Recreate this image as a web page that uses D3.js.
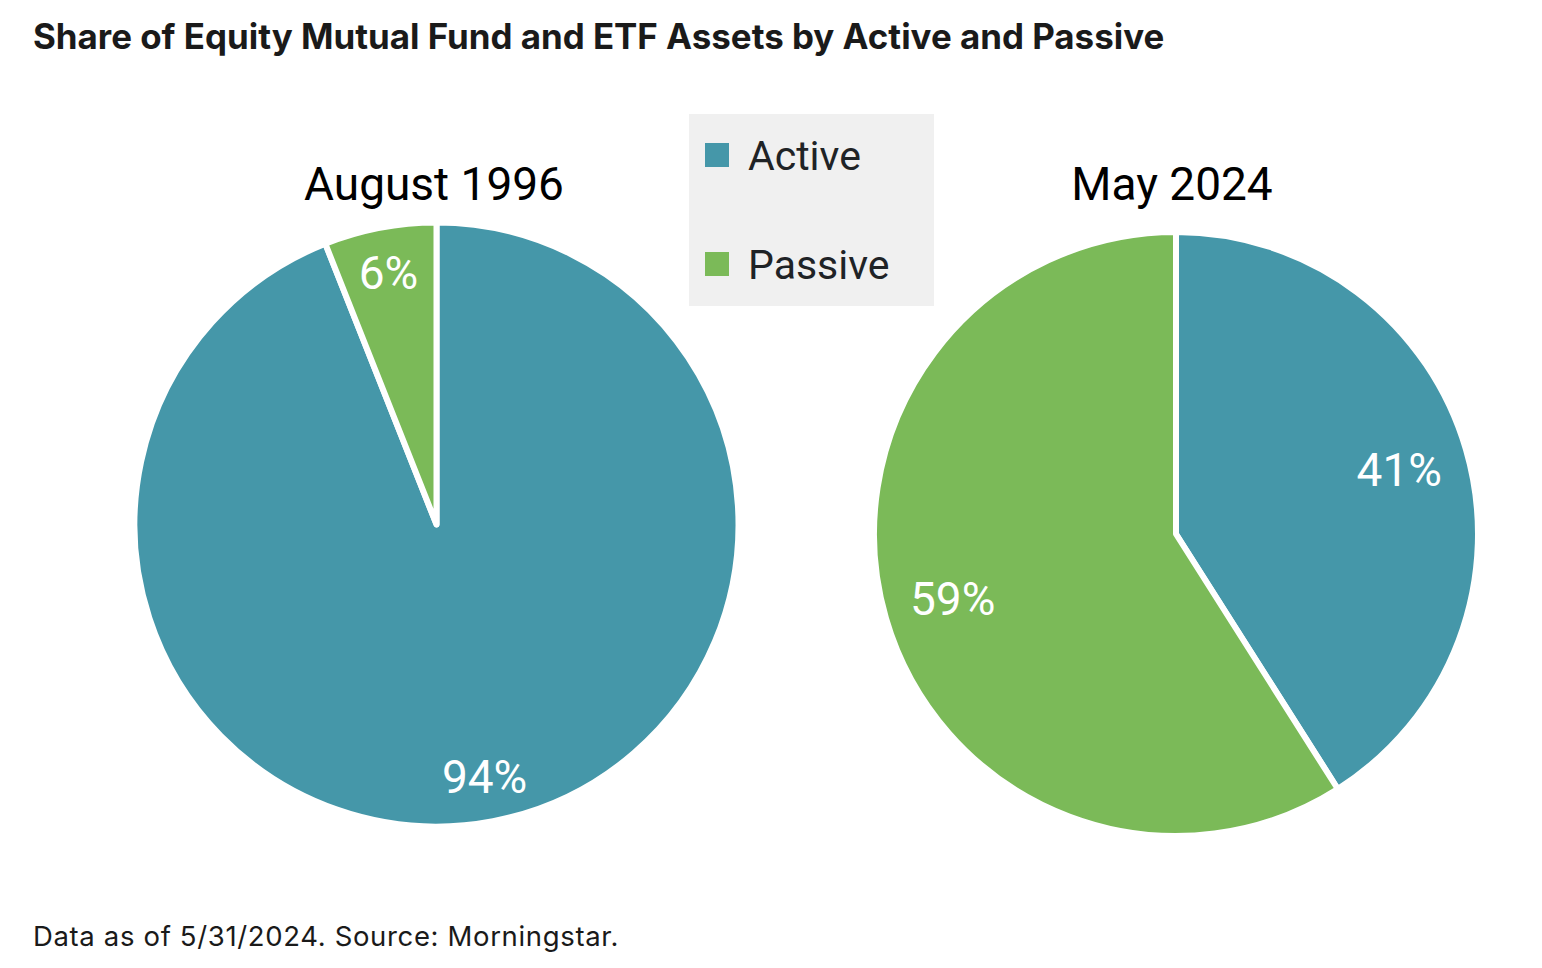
<!DOCTYPE html>
<html><head><meta charset="utf-8">
<script src="https://cdn.jsdelivr.net/npm/d3@7"></script>
<style>
html,body{margin:0;padding:0;background:#fff;}
svg{display:block;}
</style></head>
<body>
<svg id="chart" width="1542" height="968"></svg>
<script>
const title = "Share of Equity Mutual Fund and ETF Assets by Active and Passive";
const footnote = "Data as of 5/31/2024. Source: Morningstar.";
const categories = ["Active", "Passive"];
const periods = ["August 1996", "May 2024"];
const active = [94, 41];
const passive = [6, 59];
const colors = ["#4597a9", "#7bba58"];

const svg = d3.select("#chart");
const color = d3.scaleOrdinal().domain(categories).range(colors);

svg.append("text").attr("x", 33).attr("y", 49)
  .attr("font-family", "Inter").attr("font-weight", 700).attr("font-size", 34.9)
  .attr("fill", "#1a1a1a").text(title);

svg.append("text").attr("x", 33).attr("y", 946)
  .attr("font-family", "Inter").attr("font-size", 27.5).attr("letter-spacing", 0.65)
  .attr("fill", "#1a1a1a").text(footnote);

const pies = [
  {cx: 436.5, cy: 524.5, r: 302, labelFrac: 0.85, titleX: 434},
  {cx: 1176, cy: 534, r: 302, labelFrac: 0.77, titleX: 1172}
];
const pie = d3.pie().sort(null).value(d => d.v);

periods.forEach((p, i) => {
  const cfg = pies[i];
  const data = [{k: categories[0], v: active[i]}, {k: categories[1], v: passive[i]}];
  const arcs = pie(data);
  const arc = d3.arc().innerRadius(0).outerRadius(cfg.r);
  const labelArc = d3.arc().innerRadius(cfg.r * cfg.labelFrac).outerRadius(cfg.r * cfg.labelFrac);
  const g = svg.append("g").attr("transform", `translate(${cfg.cx},${cfg.cy})`);
  g.selectAll("path").data(arcs).join("path")
    .attr("d", arc).attr("fill", d => color(d.data.k))
    .attr("stroke", "#fff").attr("stroke-width", 6).attr("stroke-linejoin", "round");
  g.selectAll("text.lbl").data(arcs).join("text").attr("class", "lbl")
    .attr("transform", d => `translate(${labelArc.centroid(d)})`)
    .attr("text-anchor", "middle").attr("dy", "0.36em")
    .attr("font-family", "Roboto").attr("font-size", 46).attr("fill", "#fff")
    .text(d => d.data.v + "%");
  svg.append("text").attr("x", cfg.titleX).attr("y", 200)
    .attr("text-anchor", "middle").attr("font-family", "Roboto").attr("font-size", 46)
    .attr("fill", "#000").text(p);
});

const lg = svg.append("g");
lg.append("rect").attr("x", 689).attr("y", 114).attr("width", 245).attr("height", 192).attr("fill", "#f0f0f0");
const ly = d3.scalePoint().domain(categories).range([155, 264]);
categories.forEach(c => {
  lg.append("rect").attr("x", 705).attr("y", ly(c) - 12).attr("width", 24).attr("height", 24).attr("fill", color(c));
  lg.append("text").attr("x", 748).attr("y", ly(c)).attr("dy", "0.36em")
    .attr("font-family", "Roboto").attr("font-size", 41).attr("fill", "#1f2326").text(c);
});
</script>
</body></html>
